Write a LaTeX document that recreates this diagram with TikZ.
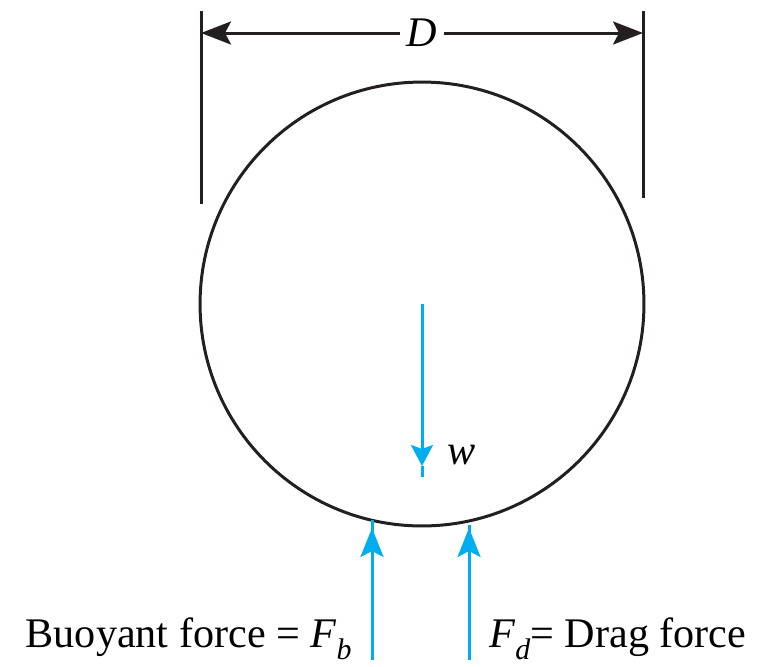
\documentclass[tikz,border=0pt]{standalone}
\usepackage{amsmath}
\usepackage{fontspec}
\setmainfont{Liberation Serif}
\usepackage{tikz}
\usetikzlibrary{arrows.meta}

\definecolor{ink}{RGB}{35,31,32}
\definecolor{forceblue}{RGB}{0,174,239}
\newcommand{\lowsub}[1]{\raisebox{-0.3em}{\fontsize{17}{20}\selectfont\textit{#1}}}

\begin{document}
\begin{tikzpicture}[x=0.02cm, y=-0.02cm, font=\fontsize{24}{28}\selectfont,
      body/.style={draw=ink, circle, line width=0.06cm, minimum size=8.88cm, inner sep=0pt},
      dim/.style={draw=ink, line width=0.06cm},
      dimarrow/.style={dim, -{Stealth[length=0.6cm, width=0.46cm, inset=0.12cm]}},
      force/.style={draw=forceblue, line width=0.06cm},
      bigtip/.style={force, -{Stealth[length=0.58cm, width=0.46cm, inset=0.12cm]}},
      smalltip/.style={force, -{Stealth[length=0.42cm, width=0.44cm, inset=0.08cm]}},
      lab/.style={inner sep=0pt}]
      \useasboundingbox (0,0) rectangle (766,666);
      % sphere and its diameter
      \node[body] (ball) at (422,304) {};
      \coordinate (extLtop) at (201,11);
      \coordinate (extLbot) at (201,204);
      \coordinate (extRtop) at (643,11);
      \coordinate (extRbot) at (643,198);
      \coordinate (dimL) at (201,33);
      \coordinate (dimR) at (643,33);
      \node[lab, inner sep=0.12cm] (dlab) at (422,33) {\textit{D}};
      \draw[dim] (extLtop) -- (extLbot);
      \draw[dim] (extRtop) -- (extRbot);
      \draw[dimarrow] (dlab) -- (dimL);
      \draw[dimarrow] (dlab) -- (dimR);
      % weight
      \coordinate (wtip) at (422,466);
      \coordinate (wend) at (422,477);
      \draw[smalltip] (ball.center) -- (wtip);
      \draw[force] (wtip) -- (wend);
      \node[lab] (wlab) at (462,455) {\textit{w}};
      % buoyant force and drag force
      \coordinate (bLbot) at (372,660);
      \coordinate (bLtip) at (372,528);
      \coordinate (bLtop) at (372,520);
      \coordinate (bRbot) at (469,660);
      \coordinate (bRtip) at (469,528);
      \coordinate (bRtop) at (469,525);
      \draw[force] (bLbot) -- (bLtop);
      \draw[bigtip] (bLbot) -- (bLtip);
      \draw[force] (bRbot) -- (bRtop);
      \draw[bigtip] (bRbot) -- (bRtip);
      \node[lab, anchor=base east] (fb) at (352,647) {Buoyant force = \textit{F}\lowsub{b}};
      \node[lab, anchor=base west] (fd) at (489,647) {\textit{F}\lowsub{d}= Drag force};
\end{tikzpicture}
\end{document}
